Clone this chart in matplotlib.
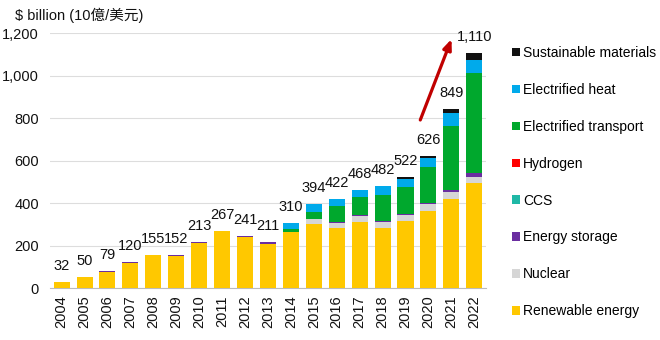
import numpy as np
import matplotlib
matplotlib.use("Agg")
from matplotlib import pyplot as plt
from matplotlib.patches import Patch

plt.rcParams['font.family'] = ['Liberation Sans', 'Noto Sans CJK TC', 'DejaVu Sans']

years = [str(y) for y in range(2004, 2023)]
totals = [32, 50, 79, 120, 155, 152, 213, 267, 241, 211, 310, 394, 422, 468, 482, 522, 626, 849, 1110]

renewable = [31, 52, 78, 117, 155, 150, 215, 268, 242, 208, 264, 301, 285, 313, 285, 316, 362, 421, 494]
nuclear = [0, 0, 0, 0, 0, 0, 0, 0, 0, 0, 0, 23, 22, 25, 27, 30, 33, 31, 31]
storage = [0, 2, 2, 8, 4, 8, 3, 4, 4, 8, 1, 1, 5, 6, 5, 5, 5, 12, 17]
ccs = [0, 0, 0, 0, 0, 0, 0, 0, 0, 0, 0, 0, 0, 0, 0, 0, 1, 1, 2]
hydrogen = [0, 0, 0, 0, 0, 0, 0, 0, 0, 0, 0, 0, 0, 0, 0, 0, 0, 0, 1]
transport = [0, 0, 0, 0, 0, 0, 0, 0, 0, 0, 14, 36, 77, 85, 122, 124, 168, 300, 466]
heat = [0, 0, 0, 0, 0, 0, 0, 0, 0, 0, 30, 36, 33, 36, 41, 41, 45, 61, 63]
materials = [0, 0, 0, 0, 0, 0, 0, 0, 0, 0, 0, 0, 0, 0, 0, 9, 9, 17, 34]

series = [
    ("Renewable energy", renewable, "#FFC800"),
    ("Nuclear", nuclear, "#D6D6D6"),
    ("Energy storage", storage, "#6A2EA0"),
    ("CCS", ccs, "#1FB8A6"),
    ("Hydrogen", hydrogen, "#FF0000"),
    ("Electrified transport", transport, "#00A82D"),
    ("Electrified heat", heat, "#00AAEB"),
    ("Sustainable materials", materials, "#111111"),
]

fig = plt.figure(figsize=(6.6, 3.4), dpi=100)
ax = fig.add_axes([0.076, 0.152, 0.66, 0.75])

x = np.arange(len(years))
bottom = np.zeros(len(years))
for name, vals, color in series:
    ax.bar(x, vals, 0.7, bottom=bottom, color=color, label=name, zorder=3)
    bottom += np.array(vals)

for i, t in enumerate(totals):
    ax.annotate(f"{t:,}", (x[i], bottom[i]), xytext=(0, 11.5), textcoords="offset points",
                ha="center", va="center", fontsize=10.5, color="#111111", annotation_clip=False)

# growth arrow
ax.annotate("", xy=(17.05, 1185), xytext=(15.6, 780),
            arrowprops=dict(arrowstyle="-|>,head_length=0.6,head_width=0.25", color="#C00000", lw=2.3),
            annotation_clip=False)

ticks = [0, 200, 400, 600, 800, 1000, 1200]
ax.set_xlim(-0.5, len(years) - 0.5)
ax.set_ylim(0, 1200)
ax.set_yticks(ticks)
ax.set_yticklabels([f"{v:,}" for v in ticks])
ax.set_xticks(x)
ax.set_xticklabels(years, rotation=90)
ax.tick_params(axis="both", length=0, labelsize=10.5, colors="#111111")
ax.tick_params(axis="y", pad=8)
ax.tick_params(axis="x", pad=5)
ax.grid(axis="y", color="#DDDDDD", lw=0.8, zorder=0)
for s in ["top", "right", "left"]:
    ax.spines[s].set_visible(False)
ax.spines["bottom"].set_color("#BBBBBB")

fig.text(0.023, 0.955, "$ billion (10億/美元)", fontsize=10.5, color="#111111", va="center")

handles = [Patch(facecolor=c, edgecolor="none", label=n) for n, v, c in series][::-1]
fig.legend(handles=handles, loc="upper left", bbox_to_anchor=(0.776, 0.865), frameon=False,
           fontsize=10, handlelength=0.55, handleheight=0.55, handletextpad=0.25,
           labelspacing=1.65, borderaxespad=0, borderpad=0)

fig.savefig("out.png", dpi=100)
